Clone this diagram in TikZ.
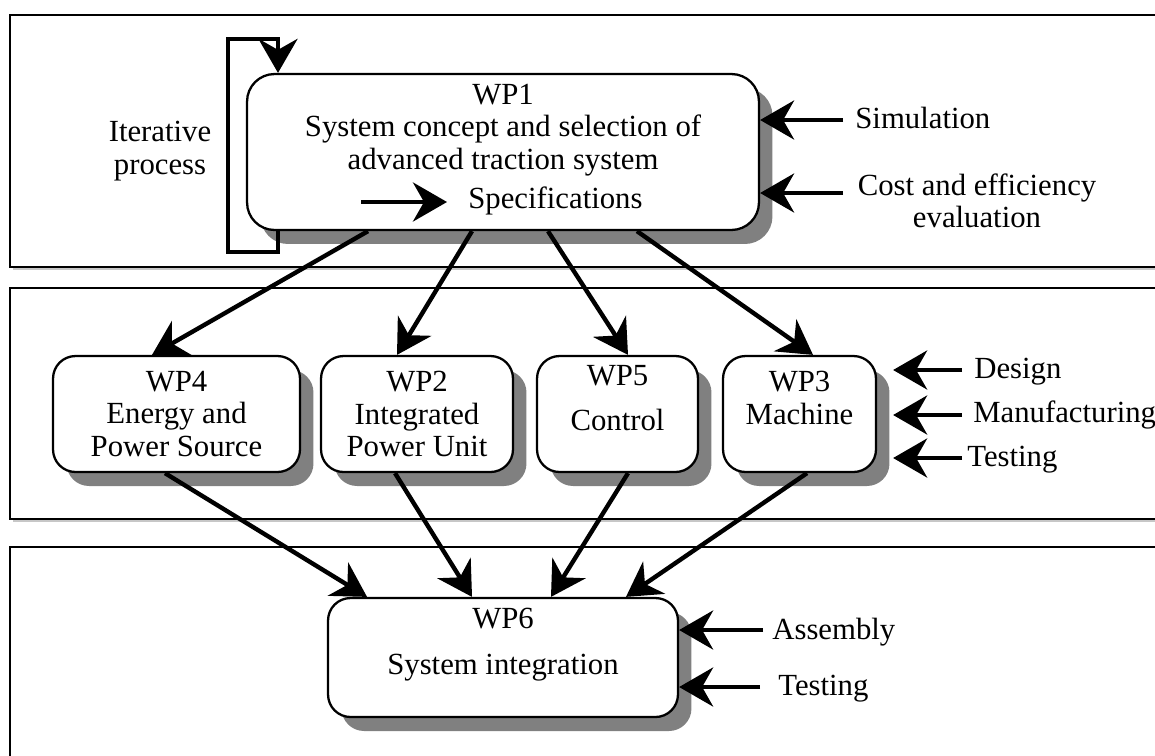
\documentclass[tikz,border=0pt]{standalone}
\usepackage{fontspec}
\setmainfont{Liberation Serif}
\usetikzlibrary{arrows.meta,shadows}
\begin{document}
\begin{tikzpicture}[x=0.02cm,y=-0.02cm,
  every node/.style={font=\fontsize{17.5}{18.5}\selectfont, inner sep=0pt},
  panel/.style={draw=black, line width=1.3pt, fill=white},
  pshadow/.style={fill=black!22},
  wpbox/.style={draw=black, line width=1.3pt, fill=white, rounded corners=0.45cm, align=center,
    drop shadow={shadow xshift=0.27cm, shadow yshift=-0.28cm, fill=black!50, opacity=1}},
  conn/.style={line width=2.5pt, -{Stealth[length=0.68cm,width=0.78cm,inset=0.22cm]}},
  lbl/.style={anchor=base west}
]
\useasboundingbox (0,0) rectangle (1155,755);
% panels
\fill[pshadow] (13,18) rectangle (1175,270);
\draw[panel] (10,15) rectangle (1170,267);
\fill[pshadow] (13,291) rectangle (1175,522);
\draw[panel] (10,288) rectangle (1170,519);
\fill[pshadow] (13,550) rectangle (1175,775);
\draw[panel] (10,547) rectangle (1170,770);

% boxes
\node[wpbox, rounded corners=0.55cm, minimum width=10.24cm, minimum height=3.12cm] (wp1) at (503,152) {};
\node[align=center] (wp1txt) at (503,130) {WP1\\System concept and selection of\\advanced traction system};
\node[lbl] (spec) at (468,208) {Specifications};

\node[wpbox, minimum width=4.94cm, minimum height=2.32cm] (wp4) at (176.5,414) {WP4\\Energy and\\Power Source};
\node[wpbox, minimum width=3.84cm, minimum height=2.32cm] (wp2) at (417,414) {WP2\\Integrated\\Power Unit};
\node[wpbox, minimum width=3.22cm, minimum height=2.32cm] (wp5) at (617.5,414) {WP5\\[7pt]Control\\\mbox{}};
\node[wpbox, minimum width=3.06cm, minimum height=2.32cm] (wp3) at (799.5,414) {WP3\\Machine\\\mbox{}};
\node[wpbox, minimum width=7.0cm, minimum height=2.38cm] (wp6) at (503,657.5) {WP6\\[8pt]System integration\\\mbox{}};

% labels
\node[align=center] (iter) at (160,151) {Iterative\\process};
\node[lbl] (sim) at (855,128) {Simulation};
\node[align=center] (cost) at (977,201) {Cost and efficiency\\evaluation};
\node[lbl] (des) at (974,378) {Design};
\node[lbl] (man) at (973,422) {Manufacturing};
\node[lbl] (tes) at (967,466) {Testing};
\node[lbl] (ass) at (772,639) {Assembly};
\node[lbl] (tes2) at (778,695) {Testing};

% coordinates
\coordinate (simT) at (843,120);
\coordinate (costT) at (843,193);
\coordinate (desT) at (962,370);
\coordinate (manT) at (962,415);
\coordinate (tesT) at (962,458);
\coordinate (assT) at (763,630);
\coordinate (tes2T) at (760,687);
\coordinate (specT) at (361,202);
\coordinate (specTip) at ([xshift=-0.42cm]spec.west);
\coordinate (wp3Tip) at ([xshift=0.32cm]wp3.east);
\coordinate (itx) at (278,0);

% iterative bracket
\draw[conn] (itx |- wp1.south) -- (278,252) -- (228,252) -- (228,39) -- (278,39) -- (itx |- wp1.north);

% specification arrow
\draw[conn] (specT) -- (specTip |- specT);

% side inputs
\draw[conn] (simT) -- (wp1.east |- simT);
\draw[conn] (costT) -- (wp1.east |- costT);
\draw[conn] (desT) -- (wp3Tip |- desT);
\draw[conn] (manT) -- (wp3Tip |- manT);
\draw[conn] (tesT) -- (wp3Tip |- tesT);
\draw[conn] (assT) -- (wp6.east |- assT);
\draw[conn] (tes2T) -- (wp6.east |- tes2T);

% WP1 to work packages
\draw[conn] ([xshift=-2.70cm]wp1.south) -- ([xshift=-0.49cm]wp4.north);
\draw[conn] ([xshift=-0.62cm]wp1.south) -- ([xshift=-0.40cm]wp2.north);
\draw[conn] ([xshift=0.90cm]wp1.south) -- ([xshift=0.21cm]wp5.north);
\draw[conn] ([xshift=2.68cm]wp1.south) -- ([xshift=0.27cm]wp3.north);

% work packages to WP6
\draw[conn] ([xshift=-0.23cm]wp4.south) -- ([xshift=-2.72cm]wp6.north);
\draw[conn] ([xshift=-0.44cm]wp2.south) -- ([xshift=-0.62cm]wp6.north);
\draw[conn] ([xshift=0.21cm]wp5.south) -- ([xshift=0.96cm]wp6.north);
\draw[conn] ([xshift=0.15cm]wp3.south) -- ([xshift=2.46cm]wp6.north);
\end{tikzpicture}
\end{document}
